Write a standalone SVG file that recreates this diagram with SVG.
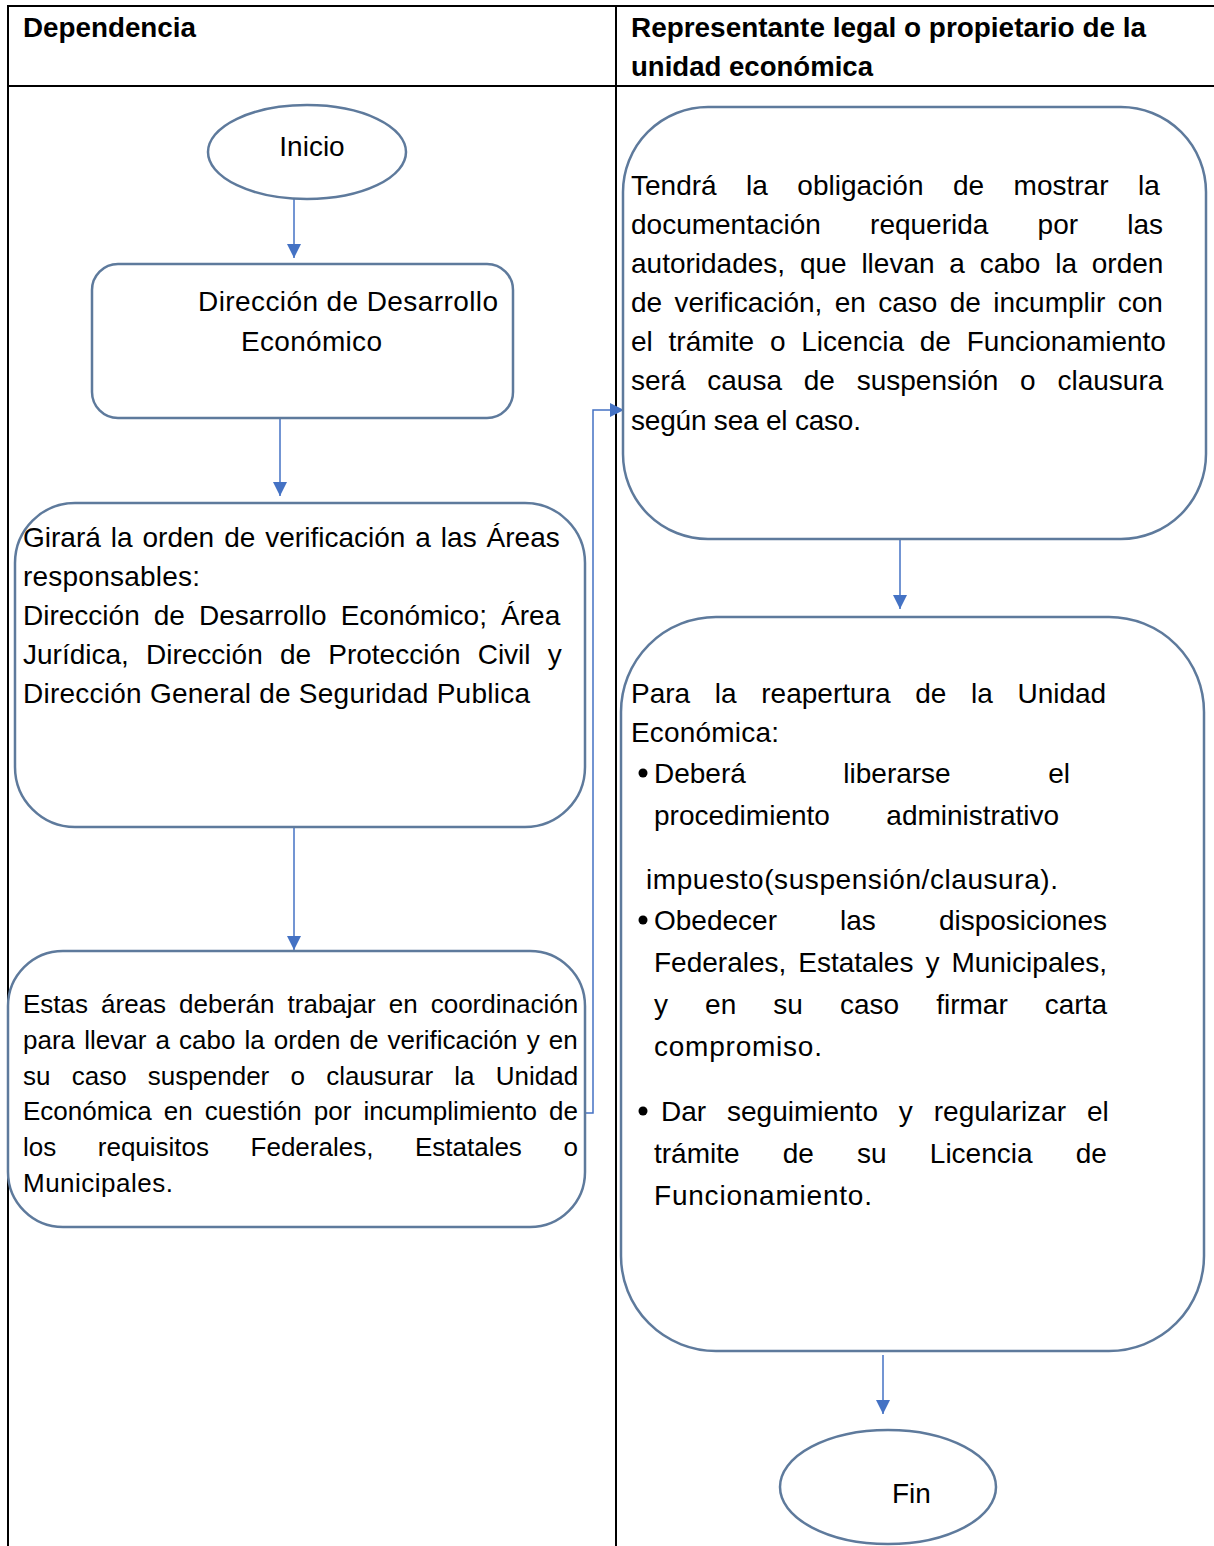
<svg xmlns="http://www.w3.org/2000/svg" width="1214" height="1546" viewBox="0 0 1214 1546">
<style>
.t{font-family:"Liberation Sans",Arial,sans-serif;font-size:28px;fill:#000}
.s{font-size:26px}
.h{font-family:"Liberation Sans",Arial,sans-serif;font-size:27px;font-weight:bold;fill:#000}
.grid{stroke:#000;stroke-width:2;fill:none}
.box{fill:#fff;stroke:#5E7A9C;stroke-width:2.5}
.con{stroke:#4472C4;stroke-width:1.5;fill:none;marker-end:url(#ah)}
</style>
<defs>
<marker id="ah" markerUnits="userSpaceOnUse" markerWidth="16" markerHeight="16" refX="14" refY="7" orient="auto">
<path d="M0,0 L14,7 L0,14 z" fill="#4472C4"/>
</marker>
</defs>
<rect width="1214" height="1546" fill="#fff"/>
<g id="table">
<line class="grid" x1="7" y1="6" x2="1214" y2="6"/>
<line class="grid" x1="7" y1="86" x2="1214" y2="86"/>
<line class="grid" x1="8" y1="5" x2="8" y2="1546"/>
<line class="grid" x1="616" y1="5" x2="616" y2="1546"/>
<text class="h" x="23" y="37" textLength="173" lengthAdjust="spacingAndGlyphs">Dependencia</text>
<text class="h" x="631" y="37" textLength="515" lengthAdjust="spacingAndGlyphs">Representante legal o propietario de la</text>
<text class="h" x="631" y="76" textLength="242" lengthAdjust="spacingAndGlyphs">unidad económica</text>
</g>
<g id="connectors">
<line class="con" x1="294" y1="192" x2="294" y2="258"/>
<line class="con" x1="280" y1="418" x2="280" y2="496"/>
<line class="con" x1="294" y1="827" x2="294" y2="950"/>
<polyline class="con" points="580,1113 593,1113 593,410 624,410"/>
<line class="con" x1="900" y1="539" x2="900" y2="609"/>
<line class="con" x1="883" y1="1355" x2="883" y2="1414"/>
</g>
<g id="inicio">
<ellipse class="box" cx="307" cy="152" rx="99" ry="47"/>
<text class="t" x="312" y="156" text-anchor="middle">Inicio</text>
</g>
<g id="direccion">
<rect class="box" x="92" y="264" width="421" height="154" rx="26"/>
<text class="t" x="198" y="311" textLength="300">Dirección de Desarrollo</text>
<text class="t" x="241" y="351" textLength="141">Económico</text>
</g>
<g id="girara">
<rect class="box" x="15" y="503" width="570" height="324" rx="60"/>
<text class="t" x="23" y="547" word-spacing="2.2">Girará la orden de verificación a las Áreas</text>
<text class="t" x="23" y="586" textLength="177">responsables:</text>
<text class="t" x="23" y="625" word-spacing="6.3">Dirección de Desarrollo Económico; Área</text>
<text class="t" x="23" y="664" word-spacing="9.4">Jurídica, Dirección de Protección Civil y</text>
<text class="t" x="23" y="703" textLength="507">Dirección General de Seguridad Publica</text>
</g>
<g id="estas">
<rect class="box" x="8" y="951" width="577" height="276" rx="55"/>
<text class="t s" x="23" y="1013" word-spacing="5.8">Estas áreas deberán trabajar en coordinación</text>
<text class="t s" x="23" y="1049" word-spacing="1.9">para llevar a cabo la orden de verificación y en</text>
<text class="t s" x="23" y="1085" word-spacing="14">su caso suspender o clausurar la Unidad</text>
<text class="t s" x="23" y="1120" word-spacing="4.9">Económica en cuestión por incumplimiento de</text>
<text class="t s" x="23" y="1156" word-spacing="34.3">los requisitos Federales, Estatales o</text>
<text class="t s" x="23" y="1192" textLength="150">Municipales.</text>
</g>
<g id="tendra">
<rect class="box" x="623" y="107" width="583" height="432" rx="85"/>
<text class="t" x="631" y="195" word-spacing="21.7">Tendrá la obligación de mostrar la</text>
<text class="t" x="631" y="234" word-spacing="41.4">documentación requerida por las</text>
<text class="t" x="631" y="273" word-spacing="7">autoridades, que llevan a cabo la orden</text>
<text class="t" x="631" y="312" word-spacing="4.6">de verificación, en caso de incumplir con</text>
<text class="t" x="631" y="351" word-spacing="8">el trámite o Licencia de Funcionamiento</text>
<text class="t" x="631" y="390" word-spacing="14">será causa de suspensión o clausura</text>
<text class="t" x="631" y="430" textLength="230">según sea el caso.</text>
</g>
<g id="reapertura">
<rect class="box" x="621" y="617" width="583" height="734" rx="95"/>
<text class="t" x="631" y="703" word-spacing="16.9">Para la reapertura de la Unidad</text>
<text class="t" x="631" y="742" textLength="148">Económica:</text>
<circle cx="643" cy="773" r="4.5" fill="#000"/>
<text class="t" x="654" y="783" word-spacing="89.7">Deberá liberarse el</text>
<text class="t" x="654" y="825" word-spacing="48.7">procedimiento administrativo</text>
<text class="t" x="646" y="889" textLength="412">impuesto(suspensión/clausura).</text>
<circle cx="643" cy="920" r="4.5" fill="#000"/>
<text class="t" x="654" y="930" word-spacing="55.3">Obedecer las disposiciones</text>
<text class="t" x="654" y="972" word-spacing="4.2">Federales, Estatales y Municipales,</text>
<text class="t" x="654" y="1014" word-spacing="29.3">y en su caso firmar carta</text>
<text class="t" x="654" y="1056" textLength="168">compromiso.</text>
<circle cx="643" cy="1111" r="4.5" fill="#000"/>
<text class="t" x="661" y="1121" word-spacing="13.1">Dar seguimiento y regularizar el</text>
<text class="t" x="654" y="1163" word-spacing="35.4">trámite de su Licencia de</text>
<text class="t" x="654" y="1205" textLength="218">Funcionamiento.</text>
</g>
<g id="fin">
<ellipse class="box" cx="888" cy="1487" rx="108" ry="57"/>
<text class="t" x="892" y="1503">Fin</text>
</g>
</svg>
